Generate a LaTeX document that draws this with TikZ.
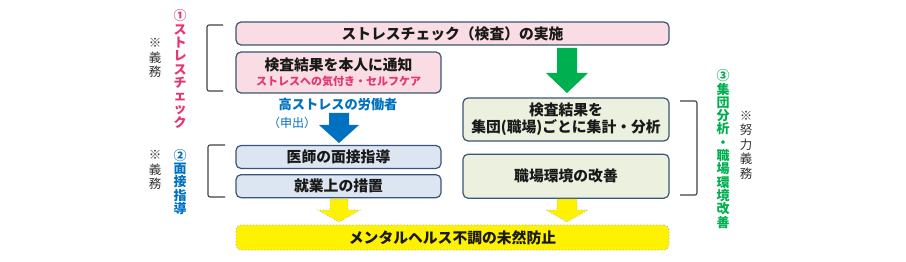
\documentclass[tikz,border=0pt]{standalone}
\usepackage{fontspec}
\setmainfont{Noto Sans CJK JP}
\usepackage{tikz}
\usetikzlibrary{positioning}

\definecolor{boxline}{HTML}{3A5577}
\definecolor{pinkfill}{HTML}{F9DCE4}
\definecolor{bluefill}{HTML}{DCE6F2}
\definecolor{greenfill}{HTML}{EBF1DE}
\definecolor{pinktext}{HTML}{E6356F}
\definecolor{bluetext}{HTML}{0070C0}
\definecolor{greentext}{HTML}{00B050}
\definecolor{brackline}{HTML}{404040}

\begin{document}
\begin{tikzpicture}[x=1pt,y=-1pt,
    box/.style={draw=boxline,line width=1.2pt,rounded corners=5pt,align=center,
        minimum width=205pt,minimum height=23pt,inner sep=2pt,
        font=\fontsize{14.8}{18}\selectfont\bfseries,text=black!90},
    wide/.style={box,minimum width=433pt},
    vlab/.style={align=center,inner sep=0pt,font=\fontsize{13}{13.3}\selectfont\bfseries},
    duty/.style={align=center,inner sep=0pt,font=\fontsize{12.5}{14.5}\selectfont,text=black!80},
    bracket/.style={draw=brackline,line width=1.1pt,rounded corners=2pt},
    hollow/.style={fill=yellow,draw=gray!60,dotted,line width=0.7pt}
]
\useasboundingbox (0,0) rectangle (906,262);

% boxes
\node[wide,fill=pinkfill] (check) at (452.5,33.5) {ストレスチェック（検査）の実施};
\node[box,fill=pinkfill,minimum height=41pt] (notify) at (338.5,72.5)
    {検査結果を本人に通知\\[-3pt]{\fontsize{11}{13}\selectfont\color{pinktext}ストレスへの気付き・セルフケア}};
\node[box,fill=greenfill,minimum width=206pt,minimum height=43pt] (agg) at (566,119.5)
    {検査結果を\\[-1pt]集団(職場)ごとに集計・分析};
\node[box,fill=greenfill,minimum width=206pt,minimum height=44pt,below=12pt of agg] (improve)
    {職場環境の改善};
\node[box,fill=bluefill] (doctor) at (338.5,157) {医師の面接指導};
\node[box,fill=bluefill,below=5pt of doctor] (measure) {就業上の措置};
\node[wide,fill=yellow,draw=gray!60,dotted,line width=0.8pt,minimum height=25pt] (prevent)
    at (452.5,237.5) {メンタルヘルス不調の未然防止};

% labels
\node[font=\fontsize{13.2}{15}\selectfont\bfseries,text=bluetext] (high) at (338,104) {高ストレスの労働者};
\node[font=\fontsize{12}{14}\selectfont,text=bluetext] (apply) at (292,123) {（申出）};

\node[vlab,text=pinktext] (lab1) at (180,69) {①\\ス\\ト\\レ\\ス\\チ\\ェ\\ッ\\ク};
\node[duty] (duty1) at (155,58) {※\\義\\務};
\node[vlab,text=bluetext] (lab2) at (180,182) {②\\面\\接\\指\\導};
\node[duty] (duty2) at (155,170) {※\\義\\務};
\node[vlab,text=greentext] (lab3) at (723,149) {③\\集\\団\\分\\析\\・\\職\\場\\環\\境\\改\\善};
\node[duty] (duty3) at (746,145) {※\\努\\力\\義\\務};

% brackets
\draw[bracket] (223,25) -- (207,25) -- (207,91) -- (223,91);
\draw[bracket] (225,145) -- (208,145) -- (208,197) -- (225,197);
\draw[bracket] (680,101) -- (697,101) -- (697,195) -- (680,195);

% block arrows
\fill[bluetext] (329,113) -- (349,113) -- (349,125) -- (359,125) -- (339,143)
    -- (319,125) -- (329,125) -- cycle;
\fill[greentext] (557,48) -- (577,48) -- (577,73) -- (588,73) -- (567,93)
    -- (546,73) -- (557,73) -- cycle;
\filldraw[hollow] (330,199) -- (348,199) -- (348,210) -- (360,210) -- (339,222)
    -- (318,210) -- (330,210) -- cycle;
\filldraw[hollow] (557,199) -- (577,199) -- (577,210) -- (588,210) -- (567,222)
    -- (546,210) -- (557,210) -- cycle;
\end{tikzpicture}
\end{document}
